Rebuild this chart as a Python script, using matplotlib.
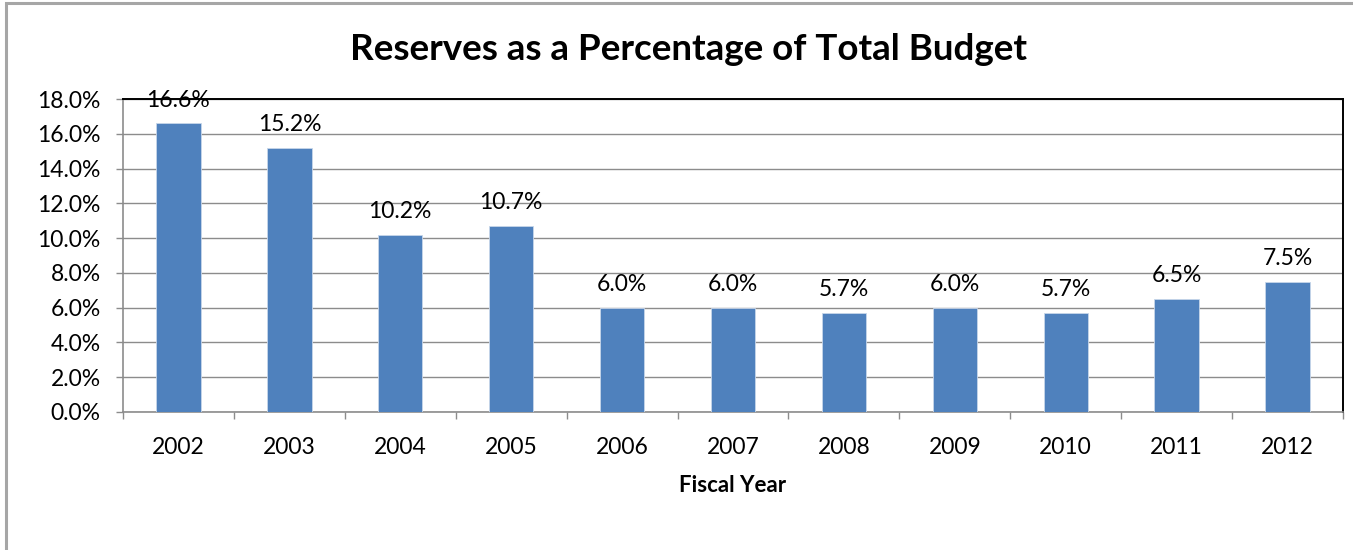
import matplotlib
matplotlib.use("Agg")
import matplotlib.pyplot as plt
from matplotlib.patches import Rectangle

# Reserves as a share of total budget, by fiscal year
years = ["2002", "2003", "2004", "2005", "2006", "2007", "2008", "2009", "2010", "2011", "2012"]
reserves_pct = [16.6, 15.2, 10.2, 10.7, 6.0, 6.0, 5.7, 6.0, 5.7, 6.5, 7.5]
y_ticks = [0, 2, 4, 6, 8, 10, 12, 14, 16, 18]

plt.rcParams["font.family"] = ["Lato", "DejaVu Sans"]

W, H = 1353, 550
fig = plt.figure(figsize=(W / 100, H / 100), dpi=100)

# chart frame
fig.patches.append(Rectangle((6 / W, -0.1), 1.1, (H - 3) / H + 0.1,
                             transform=fig.transFigure, fill=False,
                             edgecolor="#a6a6a6", linewidth=2.2))

ax = fig.add_axes([123 / W, 1 - 412 / H, (1343 - 123) / W, (412 - 99) / H])

x = list(range(len(years)))
ax.bar(x, reserves_pct, width=0.4, color="#4f81bd", edgecolor="#c7d6ea",
       linewidth=0.6, zorder=3)

for xi, v in zip(x, reserves_pct):
    ax.annotate(f"{v:.1f}%", (xi, v), xytext=(0, 9), textcoords="offset points",
                ha="center", va="bottom", fontsize=16.5, zorder=4)

ax.set_xlim(-0.5, len(years) - 0.5)
ax.set_ylim(0, 18)
ax.set_yticks(y_ticks)
ax.set_yticklabels([f"{t:.1f}%" for t in y_ticks], fontsize=16.5)
ax.yaxis.grid(True, color="#8c8c8c", linewidth=1.0, zorder=0)

ax.set_xticks(x)
ax.set_xticklabels(years, fontsize=16.5)
ax.set_xticks([i - 0.5 for i in range(len(years) + 1)], minor=True)
ax.tick_params(axis="x", which="major", length=0, pad=18)
ax.tick_params(axis="x", which="minor", length=5, color="#8c8c8c", width=1)
ax.tick_params(axis="y", length=5, color="#8c8c8c", width=1, pad=11)

ax.spines["left"].set_color("#8c8c8c")
ax.spines["bottom"].set_color("#8c8c8c")
ax.spines["left"].set_linewidth(1.2)
ax.spines["bottom"].set_linewidth(1.2)
ax.spines["top"].set_color("black")
ax.spines["right"].set_color("black")
ax.spines["top"].set_linewidth(1.4)
ax.spines["right"].set_linewidth(1.4)

ax.set_xlabel("Fiscal Year", fontsize=16, fontweight="bold", labelpad=12)
fig.text(688 / W, 1 - 50 / H, "Reserves as a Percentage of Total Budget",
         ha="center", va="center", fontsize=26.5, fontweight="bold")

fig.savefig("out.png", dpi=100)
